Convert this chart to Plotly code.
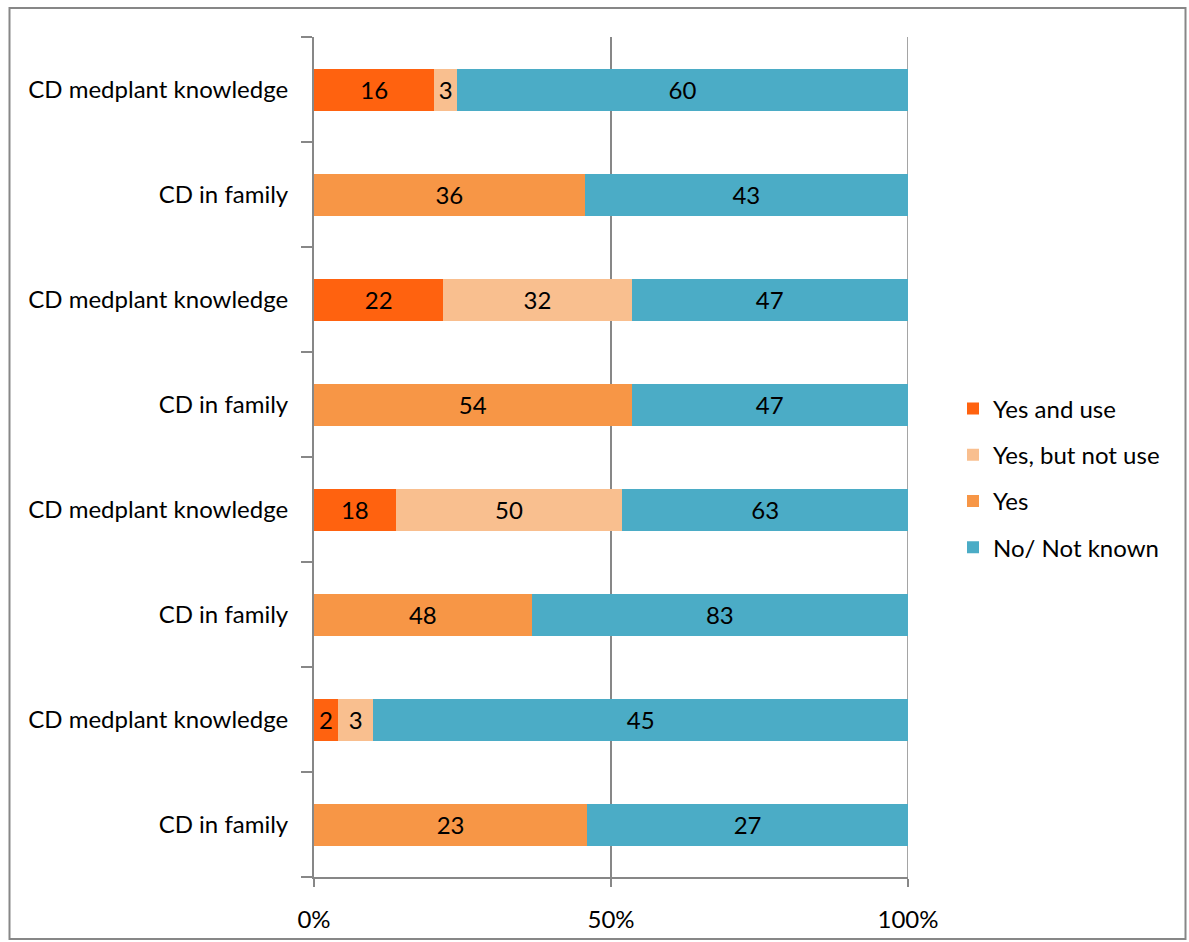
import plotly.graph_objects as go

categories = ["CD medplant knowledge", "CD in family", "CD medplant knowledge", "CD in family",
              "CD medplant knowledge", "CD in family", "CD medplant knowledge", "CD in family"]
yes_and_use = [16, None, 22, None, 18, None, 2, None]
yes_not_use = [3, None, 32, None, 50, None, 3, None]
yes = [None, 36, None, 54, None, 48, None, 23]
no_not_known = [60, 43, 47, 47, 63, 83, 45, 27]

series = [
    ("Yes and use", yes_and_use, "#FF620F"),
    ("Yes, but not use", yes_not_use, "#F9BF8F"),
    ("Yes", yes, "#F79646"),
    ("No/ Not known", no_not_known, "#4BACC6"),
]

FONT = "Lato"
FS = 24
pos = list(range(len(categories)))

fig = go.Figure()
for i, (name, vals, color) in enumerate(series):
    fig.add_trace(go.Bar(
        y=pos, x=[v if v is not None else 0 for v in vals], orientation="h",
        name=name, marker=dict(color=color, line=dict(width=0)),
        text=[str(v) if v else "" for v in vals], textposition="inside",
        insidetextanchor="middle", constraintext="none",
        textfont=dict(family=FONT, size=FS, color="black"),
        width=0.4, legendgroup=f"g{i}", hoverinfo="skip",
    ))

W, H = 1189, 942
L, R, T, B = 314, 281, 37, 65
pw, ph = W - L - R, H - T - B

fig.update_layout(
    width=W, height=H, barmode="stack", barnorm="percent",
    margin=dict(l=L, r=R, t=T, b=B, autoexpand=False),
    paper_bgcolor="white", plot_bgcolor="white",
    font=dict(family=FONT, size=FS, color="black"),
    showlegend=True,
    legend=dict(x=(953 - L) / pw, xanchor="left", y=(H - B - 478) / ph, yanchor="middle",
                traceorder="grouped", tracegroupgap=12, font=dict(family=FONT, size=FS),
                bgcolor="rgba(0,0,0,0)"),
    xaxis=dict(range=[0, 100], tickvals=[0, 50, 100], ticktext=["0%", "50%", "100%"],
               showgrid=True, gridcolor="#878787", gridwidth=1.5, zeroline=False,
               showline=True, linecolor="#878787", linewidth=2,
               ticks="outside", ticklen=8, tickcolor="#878787", tickwidth=2,
               ticklabelstandoff=12, fixedrange=True),
    yaxis=dict(range=[len(categories) - 0.5, -0.5], tickvals=pos, ticktext=categories,
               ticks="", showgrid=False, zeroline=False,
               showline=True, linecolor="#878787", linewidth=2,
               minor=dict(tickmode="linear", tick0=-0.5, dtick=1, ticks="outside",
                          ticklen=11, tickcolor="#878787", tickwidth=2, showgrid=False),
               ticklabelstandoff=19, fixedrange=True),
)

# 100% gridline (at the range edge)
fig.add_shape(type="line", xref="x", yref="paper", x0=100, x1=100, y0=0, y1=1,
              line=dict(color="#878787", width=1.5), layer="below")

fig.add_shape(type="rect", xref="paper", yref="paper",
              x0=(9.5 - L) / pw, x1=(1185.5 - L) / pw,
              y0=(H - B - 939) / ph, y1=(H - B - 8) / ph,
              line=dict(color="#878787", width=2), fillcolor="rgba(0,0,0,0)", layer="below")

fig.write_html("out.html")
